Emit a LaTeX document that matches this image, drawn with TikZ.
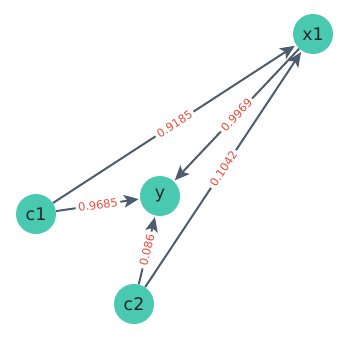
\documentclass[tikz,border=0pt]{standalone}
\usepackage{fontspec}
\setmainfont{DejaVu Sans}
\usetikzlibrary{arrows.meta}
\definecolor{nodeteal}{HTML}{48C9B0}
\definecolor{linkgray}{HTML}{4D5D6E}
\definecolor{weightred}{HTML}{E74C3C}

\begin{document}
\begin{tikzpicture}[
    x=0.75pt, y=0.75pt,
    vertex/.style={circle, fill=nodeteal, text=black!85, minimum size=30pt,
        inner sep=0pt, font=\fontsize{13}{15}\selectfont}, % Variable nodes
    link/.style={-{Stealth[length=11pt, width=9.5pt, inset=2.5pt]}, linkgray,
        line width=1.5pt, shorten >=1pt}, % Arrow style
    weight/.style={sloped, fill=white, text=weightred, inner sep=2pt,
        font=\fontsize{8.5}{10}\selectfont} % Edge weights
]
    \useasboundingbox (0,0) rectangle (349,340);

    % Variables
    \node (x1) [vertex] at (313,306) {x1};
    \node (y)  [vertex] at (160,144) {y};
    \node (c1) [vertex] at (36,126)  {c1};
    \node (c2) [vertex] at (134,36)  {c2};

    % Weighted arrows
    \draw[link] (c1) -- node[weight] {0.9185} (x1);
    \draw[link] (x1) -- node[weight] {0.9969} (y);
    \draw[link] (c1) -- node[weight] {0.9685} (y);
    \draw[link] (c2) -- node[weight] {0.086} (y);
    \draw[link] (c2) -- node[weight] {0.1042} (x1);

\end{tikzpicture}
\end{document}
